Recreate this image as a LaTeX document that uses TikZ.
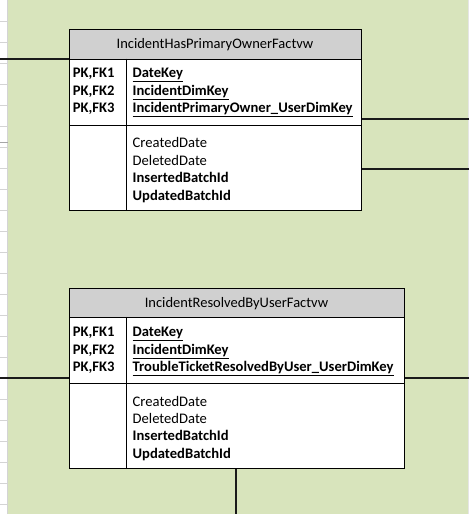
\documentclass[tikz,border=0pt]{standalone}
\usepackage{fontspec}
\setmainfont{Carlito}
\definecolor{sheetgreen}{HTML}{D8E4BC}
\definecolor{headgray}{HTML}{D0D0D0}
\definecolor{gridgray}{HTML}{D4D4D4}
\definecolor{linedark}{HTML}{1A1A1A}
\tikzset{
  tablebox/.style={draw=black, line width=1pt, fill=white, inner sep=0pt, anchor=north west},
  headbox/.style={draw=black, line width=1pt, fill=headgray, inner sep=0pt, anchor=north west},
  txt/.style={inner sep=0pt, anchor=base west, font=\fontsize{14.6}{16}\selectfont},
  ttl/.style={inner sep=0pt, anchor=base, font=\fontsize{14.5}{16}\selectfont},
  conn/.style={draw=linedark, line width=1.8pt},
  sep/.style={draw=black, line width=1pt}
}
\begin{document}
\begin{tikzpicture}[x=1pt,y=-1pt]
\useasboundingbox (0,0) rectangle (469,514);
% sheet background
\fill[white] (0,0) rectangle (469,514);
\fill[sheetgreen] (8,0) rectangle (468,514);
\draw[gridgray, line width=0.8pt] (7.5,0) -- (7.5,514);
\fill[gridgray!60] (468,0) rectangle (469,514);
\foreach \k in {1,...,24} { \draw[gridgray, line width=0.8pt] (0,21*\k) -- (7,21*\k); }
\draw[gray!70, line width=0.8pt] (0,142.3) -- (8,142.3);

% ---------- table 1 ----------
\node[tablebox, minimum width=292pt, minimum height=181pt] (b1) at (69,29) {};
\node[headbox, minimum width=292pt, minimum height=29.5pt] (h1) at (69,29) {};
\draw[sep] (69,125.3) -- (361,125.3);
\draw[sep] (126.5,58.5) -- (126.5,210);
\node[ttl] (t1) at (215,48.8) {IncidentHasPrimaryOwnerFactvw};
\node[txt] (k11) at (72.7,77.4) {\textbf{PK,FK1}};
\node[txt] (k12) at (72.7,95.1) {\textbf{PK,FK2}};
\node[txt] (k13) at (72.7,112.8) {\textbf{PK,FK3}};
\node[txt] (c11) at (132.5,77.4) {\textbf{\underline{DateKey}}};
\node[txt] (c12) at (132.5,95.1) {\textbf{\underline{IncidentDimKey}}};
\node[txt] (c13) at (132.5,112.8) {\textbf{\underline{IncidentPrimaryOwner\_UserDimKey}}};
\node[txt] (a11) at (132.5,147.4) {CreatedDate};
\node[txt] (a12) at (132.5,165.2) {DeletedDate};
\node[txt] (a13) at (132.5,182.9) {\textbf{InsertedBatchId}};
\node[txt] (a14) at (132.5,200.4) {\textbf{UpdatedBatchId}};

% ---------- table 2 ----------
\node[tablebox, minimum width=335pt, minimum height=180pt] (b2) at (69,288.3) {};
\node[headbox, minimum width=335pt, minimum height=28.5pt] (h2) at (69,288.3) {};
\draw[sep] (69,383.3) -- (404,383.3);
\draw[sep] (126.5,316.8) -- (126.5,468.3);
\node[ttl] (t2) at (236.5,307.2) {IncidentResolvedByUserFactvw};
\node[txt] (k21) at (72.7,336.4) {\textbf{PK,FK1}};
\node[txt] (k22) at (72.7,354.0) {\textbf{PK,FK2}};
\node[txt] (k23) at (72.7,371.4) {\textbf{PK,FK3}};
\node[txt] (c21) at (132.5,336.4) {\textbf{\underline{DateKey}}};
\node[txt] (c22) at (132.5,354.0) {\textbf{\underline{IncidentDimKey}}};
\node[txt] (c23) at (132.5,371.4) {\textbf{\underline{TroubleTicketResolvedByUser\_UserDimKey}}};
\node[txt] (a21) at (132.5,406.4) {CreatedDate};
\node[txt] (a22) at (132.5,423.4) {DeletedDate};
\node[txt] (a23) at (132.5,440.7) {\textbf{InsertedBatchId}};
\node[txt] (a24) at (132.5,458.0) {\textbf{UpdatedBatchId}};

% ---------- connectors ----------
\coordinate (e1) at (0,59);
\coordinate (e2) at (469,118.7);
\coordinate (e3) at (469,168.7);
\coordinate (e4) at (0,377.8);
\coordinate (e5) at (469,377.8);
\coordinate (e6) at (236,514);
\draw[conn] (e1) -- (e1 -| b1.west);
\draw[conn] (e2) -- (e2 -| b1.east);
\draw[conn] (e3) -- (e3 -| b1.east);
\draw[conn] (e4) -- (e4 -| b2.west);
\draw[conn] (e5) -- (e5 -| b2.east);
\draw[conn] (e6) -- (e6 |- b2.south);
\end{tikzpicture}
\end{document}
